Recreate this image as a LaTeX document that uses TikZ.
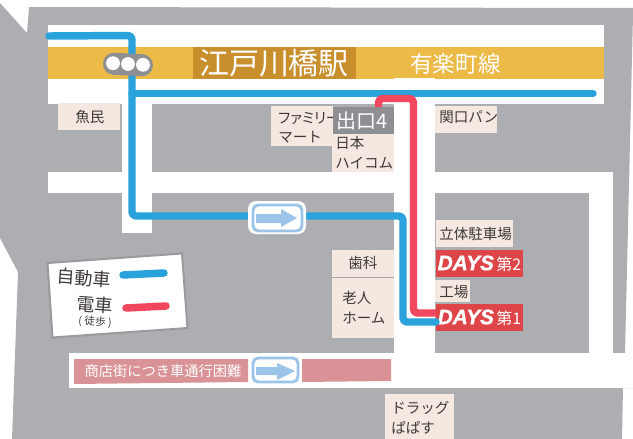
\documentclass[tikz,border=0pt]{standalone}
\usepackage{fontspec}
\setmainfont{Noto Sans CJK JP}
\newfontfamily\daysfont[BoldItalicFeatures={FakeBold=1.5}]{Liberation Sans}
\definecolor{roadgray}{HTML}{ADAEB1}
\definecolor{bandyellow}{HTML}{ECBA47}
\definecolor{banddark}{HTML}{C98F2D}
\definecolor{routeblue}{HTML}{2AA2DC}
\definecolor{routered}{HTML}{F0465E}
\definecolor{labelbg}{HTML}{F4E8E1}
\definecolor{signgray}{HTML}{8E8F93}
\definecolor{daysred}{HTML}{DD4548}
\definecolor{arrowblue}{HTML}{9CC4E8}
\definecolor{warnpink}{HTML}{D99296}
\definecolor{inktext}{HTML}{3E3A39}
\tikzset{
  x=0.75pt,y=-0.75pt,
  road/.style={fill=white,draw=none},
  route/.style={line width=5.6pt,line join=round,rounded corners=3pt},
  bluer/.style={route,draw=routeblue},
  redr/.style={route,draw=routered},
  lblfill/.style={fill=labelbg},
  lbl/.style={inner sep=0pt,anchor=west,text=inktext,font=\fontsize{10.9}{14.6}\selectfont,align=left},
  daysbox/.style={fill=daysred,inner sep=0pt,text=white,minimum width=65.25pt,minimum height=20.25pt},
  arrowbody/.style={fill=arrowblue,draw=none},
  whitetext/.style={text=white,inner sep=0pt},
}
\newcommand{\boxnode}[8]{% name, x1, y1, x2, y2, text x, text y, text
  \path[lblfill] (#2,#3) rectangle (#4,#5);
  \node[lbl] (#1) at (#6,#7) {#8};}
\newcommand{\daystext}[1]{{\daysfont\bfseries\itshape\fontsize{15.6}{16}\selectfont DAYS}\hspace{1.8pt}{\fontsize{12}{13}\selectfont #1}}
\begin{document}
\begin{tikzpicture}
\useasboundingbox (0,0) rectangle (633,439);
\clip (0,0) rectangle (633,439);
% ground
\fill[roadgray] (0,3) -- (27,33) -- (29,7) -- (633,8) -- (633,15) -- (625,353) -- (633,353) -- (633,388) -- (623,388) -- (622,439) -- (12,439) -- (18,272) -- (0,238) -- cycle;
% roads
\path[road] (48,25) rectangle (604,104);
\path[road] (122,104) rectangle (152,233);
\path[road] (48,172) rectangle (613,193);
\path[road] (394,104) rectangle (435,354);
\path[road] (589,172) rectangle (613,354);
\path[road] (69,353) rectangle (633,388);
% station band
\fill[bandyellow] (48,47) rectangle (604,79);
\fill[banddark] (193,47) rectangle (356,79);
\path[road] (394,78) rectangle (435,80);
\node[whitetext,font=\fontsize{22.5}{24}\selectfont] (station) at (274,63) {江戸川橋駅};
\node[whitetext,font=\fontsize{17}{20}\selectfont] (line) at (455.5,64) {有楽町線};
% label boxes
\boxnode{uomin}{58}{103}{120}{130}{75}{117}{魚民}
\boxnode{fami}{271}{106}{333}{146}{278}{128}{\addfontfeature{RawFeature=+palt}ファミリー\\マート}
\path[fill=signgray] (333,107) rectangle (394,134);
\node[whitetext,font=\fontsize{15}{18}\selectfont] (exit) at (362,120.5) {出口4};
\boxnode{hicom}{332}{134}{394}{172}{335}{152.5}{日本\\ハイコム}
\boxnode{seki}{435}{106}{497}{133}{439}{117}{関口パン}
\boxnode{park}{436}{220}{513}{247}{439}{234}{立体駐車場}
\boxnode{factory}{435}{280}{470}{302}{439}{292}{工場}
\boxnode{dental}{332}{250}{394}{277}{348}{262.5}{歯科}
\boxnode{rojin}{332}{278}{394}{338}{342}{307.5}{老人\\ホーム}
\fill[signgray!80] (332,277) rectangle (394,278);
\boxnode{drug}{385}{394}{454}{445}{391}{418}{ドラッグ\\ぱぱす}
\node[daysbox] (days2) at (479.5,263.5) {\daystext{第2}};
\node[daysbox] (days1) at (479.5,317.5) {\daystext{第1}};
% routes
\coordinate (bstart) at (49,36);
\coordinate (bjoin) at (132,93.5);
\coordinate (bend) at (593,93.5);
\coordinate (rstart) at (378.5,107);
\draw[bluer,line cap=round] (bstart) -- (132,35.5) -- (132,216) -- (403,216) -- (403,322) -- (436,322);
\draw[routeblue,line width=5.6pt,line cap=round] (bjoin) -- (bend);
\draw[redr] (rstart) -- (378.5,98.5) -- (413.5,98.5) -- (413.5,313) -- (436,313);
% signal
\begin{scope}[rotate around={-3:(128,64)}]
\fill[signgray] (103,53.5) ++(11,0) -- ++(28,0) arc[start angle=90,end angle=-90,radius=8.25pt] -- ++(-28,0) arc[start angle=270,end angle=90,radius=8.25pt] -- cycle;
\fill[white] (113,64) circle[radius=5.2pt] (128,64) circle[radius=5.2pt] (143,64) circle[radius=5.2pt];
\end{scope}
% arrow 1
\node[fill=white,rounded corners=6pt,minimum width=43.5pt,minimum height=24.75pt,inner sep=0pt] (arrowa) at (277,217.5) {};
\draw[arrowblue,line width=2.2pt,rounded corners=4pt,fill=white] (253,205) rectangle (302,231);
\fill[arrowbody] (256,214) -- (281,214) -- (281,209) -- (297,218) -- (281,227) -- (281,223) -- (256,223) -- cycle;
% warning strip
\fill[warnpink] (74,359) -- (248,359) -- (248,382) -- (74,384) -- cycle;
\fill[warnpink] (302,359) -- (391,359) -- (391,381) -- (302,382) -- cycle;
\node[whitetext,font=\fontsize{10.7}{13}\selectfont] (warn) at (163,371) {商店街につき車通行困難};
\draw[arrowblue,line width=2.2pt,rounded corners=4pt,fill=white] (253,358) rectangle (298,382);
\fill[arrowbody] (256,367) -- (277,367) -- (277,363) -- (295,371) -- (277,380) -- (277,375) -- (256,375) -- cycle;
% legend
\draw[signgray!90,line width=1.5pt,fill=white] (47.5,263) -- (182,253.5) -- (187.5,328) -- (52.5,337.5) -- cycle;
\node[inner sep=0pt,text=inktext,rotate=-4,font=\fontsize{13.5}{16}\selectfont] (lega) at (84,278) {自動車};
\node[inner sep=0pt,text=inktext,rotate=-4,font=\fontsize{13.5}{16}\selectfont] (legb) at (94.5,304.5) {電車};
\node[inner sep=0pt,text=inktext,rotate=-4,font=\fontsize{8}{10}\selectfont] (legc) at (95,322) {( 徒歩 )};
\coordinate (la1) at (123,275);
\coordinate (la2) at (164,273);
\coordinate (lb1) at (126,308);
\coordinate (lb2) at (166,306);
\draw[routeblue,line width=5.6pt,line cap=round] (la1) -- (la2);
\draw[routered,line width=5.6pt,line cap=round] (lb1) -- (lb2);
\end{tikzpicture}
\end{document}
